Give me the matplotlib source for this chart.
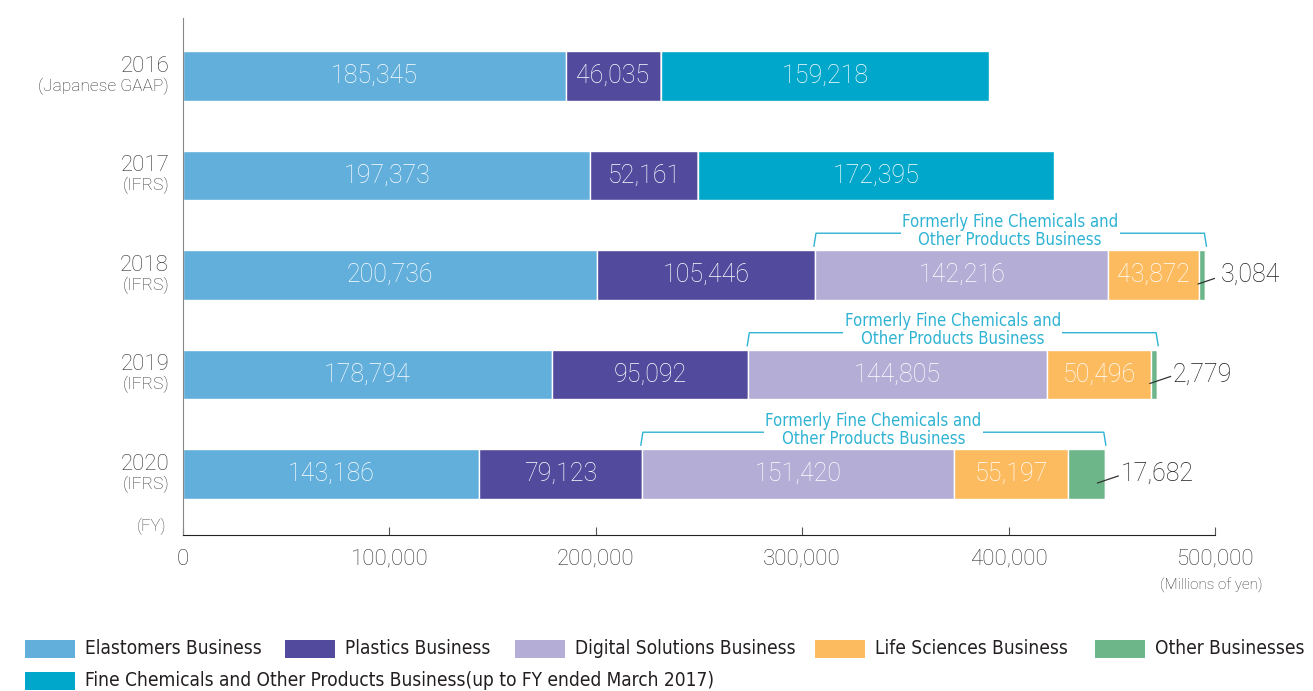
import numpy as np
import matplotlib.pyplot as plt
from matplotlib.patches import Rectangle
from matplotlib.transforms import blended_transform_factory, offset_copy

plt.rcParams['font.family'] = ['Roboto', 'DejaVu Sans']

# data (millions of yen)
years = ['2016', '2017', '2018', '2019', '2020']
standards = ['(Japanese GAAP)', '(IFRS)', '(IFRS)', '(IFRS)', '(IFRS)']
segments = ['Elastomers Business', 'Plastics Business', 'Digital Solutions Business',
            'Life Sciences Business', 'Other Businesses',
            'Fine Chemicals and Other Products Business(up to FY ended March 2017)']
elastomers = [185345, 197373, 200736, 178794, 143186]
plastics = [46035, 52161, 105446, 95092, 79123]
digital = [0, 0, 142216, 144805, 151420]
life = [0, 0, 43872, 50496, 55197]
other = [0, 0, 3084, 2779, 17682]
fine_chem = [159218, 172395, 0, 0, 0]
x_ticks = [0, 100000, 200000, 300000, 400000, 500000]

colors = ['#62afdc', '#514a9d', '#b4aed6', '#fdbb5f', '#6db68a', '#00a7cb']
bracket_color = '#2fb3d3'
series = [elastomers, plastics, digital, life, other, fine_chem]
narrow = dict(family=['DejaVu Sans'], stretch='condensed')

fig = plt.figure(figsize=(13.13, 6.91), dpi=100)
ax = fig.add_axes([183 / 1313, 1 - 535 / 691, (1215 - 183) / 1313, (535 - 18) / 691])

y = np.arange(len(years))
left = np.zeros(len(years))
h = 0.5
for vals, col in zip(series, colors):
    vals = np.array(vals, dtype=float)
    ax.barh(y, vals, left=left, height=h, color=col, edgecolor='white', linewidth=1)
    for i, v in enumerate(vals):
        if v > 20000:
            ax.text(left[i] + v / 2, y[i], f'{int(v):,}', ha='center', va='center',
                    color='white', fontsize=18, fontweight='light')
    left += vals

# small "other" values with leader lines
for i, v in enumerate(other):
    if v > 0:
        tot = left[i]
        ax.plot([tot - 3500, tot + 6500], [y[i] + 0.09, y[i] + 0.02], color='#333333', lw=0.9)
        ax.text(tot + 7500, y[i], f'{v:,}', ha='left', va='center', color='#231f20',
                fontsize=18, fontweight='light')

# brackets for former Fine Chemicals segments (digital + life sciences + other)
for i in range(len(years)):
    if digital[i] > 0:
        x0 = elastomers[i] + plastics[i]
        x1 = x0 + digital[i] + life[i] + other[i]
        yl = y[i] - 0.42
        yb = y[i] - 0.29
        ax.plot([x0 - 500, x0 + 500, x1 - 500, x1 + 500], [yb, yl, yl, yb], color=bracket_color, lw=1)
        ax.text((x0 + x1) / 2, y[i] - 0.445, 'Formerly Fine Chemicals and\nOther Products Business',
                ha='center', va='center', color=bracket_color, fontsize=12, linespacing=1.0,
                bbox=dict(facecolor='white', edgecolor='none', pad=1), **narrow)

ax.set_xlim(0, 500000)
ax.set_ylim(4.613, -0.583)
ax.set_xticks(x_ticks)
ax.set_xticklabels([f'{t:,}' for t in x_ticks], fontsize=16, color='#333333', fontweight='light')
ax.tick_params(axis='x', direction='in', length=6, pad=10, color='#555555')
ax.set_yticks([])
for s in ['top', 'right']:
    ax.spines[s].set_visible(False)
ax.spines['left'].set_color('#888888')
ax.spines['bottom'].set_color('#222222')

# year labels
trans = offset_copy(blended_transform_factory(ax.transAxes, ax.transData), fig=fig, x=-14, y=0, units='dots')
for i, (yr, st) in enumerate(zip(years, standards)):
    ax.text(0, y[i] - 0.1, yr, transform=trans, ha='right', va='center', fontsize=16,
            color='#333333', fontweight='light')
    ax.text(0, y[i] + 0.1, st, transform=trans, ha='right', va='center', fontsize=12.5,
            color='#333333', fontweight='light')

fig.text(166 / 1313, 1 - 526 / 691, '(FY)', ha='right', va='center', fontsize=12,
         color='#444444', fontweight='light')
fig.text(1262 / 1313, 1 - 585 / 691, '(Millions of yen)', ha='right', va='center', fontsize=11,
         color='#333333', fontweight='light')

# legend
leg_rows = [0, 0, 0, 0, 0, 1]
leg_x = [25, 285, 515, 815, 1095, 25]
for lab, col, r, lx in zip(segments, colors, leg_rows, leg_x):
    cy = 649 + 32 * r
    fig.patches.append(Rectangle((lx / 1313, 1 - (cy + 9) / 691), 50 / 1313, 18 / 691,
                                 transform=fig.transFigure, facecolor=col, edgecolor='none'))
    fig.text((lx + 60) / 1313, 1 - cy / 691, lab, ha='left', va='center', fontsize=13.7,
             color='#231f20', **narrow)

fig.savefig('out.png', dpi=100)
